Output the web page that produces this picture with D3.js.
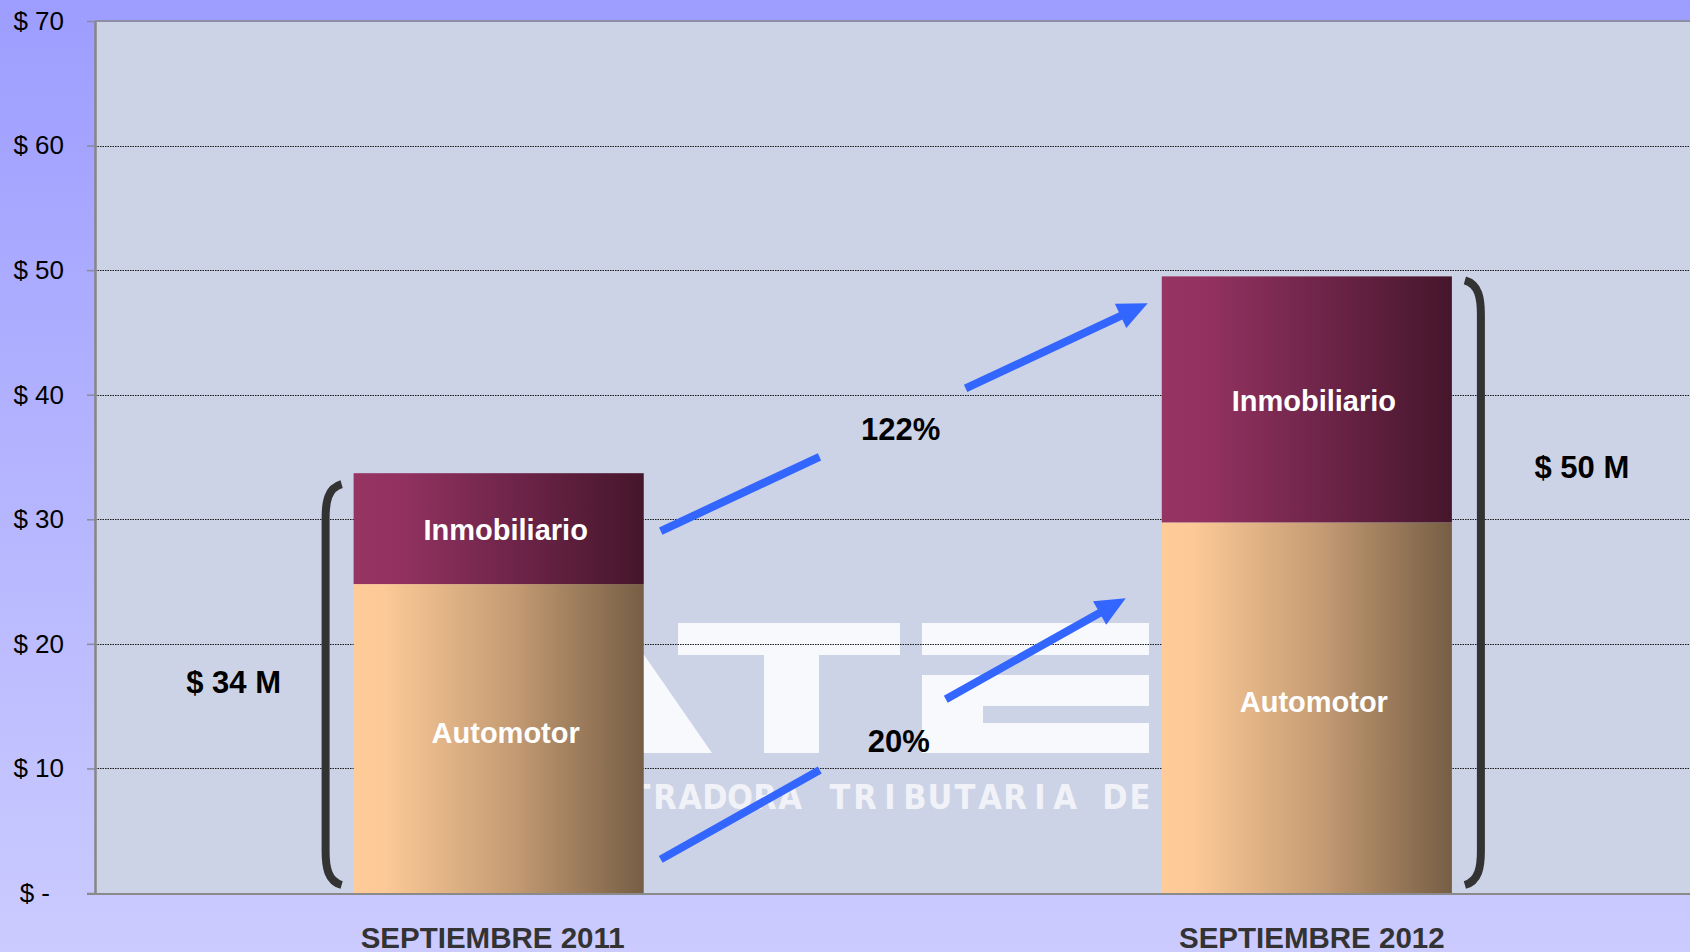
<!DOCTYPE html>
<html>
<head>
<meta charset="utf-8">
<script src="https://cdn.jsdelivr.net/npm/d3@7"></script>
<style>
body{margin:0;overflow:hidden;}
svg{display:block;font-family:"Liberation Sans",Arial,Helvetica,sans-serif;}
</style>
</head>
<body>
<div id="chart"></div>
<script>
// values (millions of $)
const categories = ["SEPTIEMBRE 2011", "SEPTIEMBRE 2012"];
const seriesNames = ["Automotor", "Inmobiliario"];
const automotor = [24.8, 29.75];
const inmobiliario = [8.9, 19.75];
const yTicks = [0, 10, 20, 30, 40, 50, 60, 70];

const width = 1690;
const height = 952;
const margin = {top: 21, left: 95, bottom: 59};
const baseY = height - margin.bottom;

const rows = categories.map((c, i) => ({cat: c, Automotor: automotor[i], Inmobiliario: inmobiliario[i]}));
const stacked = d3.stack().keys(seriesNames)(rows);
const totals = rows.map(r => r.Automotor + r.Inmobiliario);

const xScale = d3.scaleBand()
    .domain(categories)
    .range([margin.left, 1710.5])
    .paddingInner(0.641)
    .paddingOuter(0.32);
const yScale = d3.scaleLinear()
    .domain([0, 70])
    .range([baseY, margin.top]);
const bw = xScale.bandwidth();

const svg = d3.select("#chart")
    .append("svg")
        .attr("width", width)
        .attr("height", height);

const defs = svg.append("defs");
const bg = defs.append("linearGradient").attr("id", "bg").attr("x1", 0).attr("y1", 0).attr("x2", 0).attr("y2", 1);
bg.append("stop").attr("offset", 0).attr("stop-color", "#9d9dff");
bg.append("stop").attr("offset", 1).attr("stop-color", "#cbcbff");

const fills = {
    Automotor: [["0", "#ffcc99"], ["0.1", "#fdca97"], ["0.55", "#c49b73"], ["1", "#765e45"]],
    Inmobiliario: [["0", "#963462"], ["0.15", "#933261"], ["0.6", "#6a2346"], ["1", "#45162b"]]
};
Object.keys(fills).forEach(k => {
    const g = defs.append("linearGradient").attr("id", "g" + k);
    fills[k].forEach(s => g.append("stop").attr("offset", s[0]).attr("stop-color", s[1]));
});

svg.append("rect").attr("width", width).attr("height", height).attr("fill", "url(#bg)");

// plot area
svg.append("rect")
    .attr("x", margin.left)
    .attr("y", margin.top)
    .attr("width", width - margin.left)
    .attr("height", baseY - margin.top)
    .attr("fill", "#cdd3e6");

// watermark logo behind the chart
const wm = svg.append("g").attr("fill", "#fbfcfe").attr("opacity", 0.93);
wm.append("polygon").attr("points", "520,623 622,623 712,753 560,753");
wm.append("rect").attr("x", 678).attr("y", 623).attr("width", 222).attr("height", 32);
wm.append("rect").attr("x", 764).attr("y", 655).attr("width", 55).attr("height", 98);
wm.append("rect").attr("x", 922).attr("y", 623).attr("width", 227).attr("height", 32);
wm.append("rect").attr("x", 922).attr("y", 675).attr("width", 227).attr("height", 31);
wm.append("rect").attr("x", 922).attr("y", 705).attr("width", 61).attr("height", 20);
wm.append("rect").attr("x", 922).attr("y", 723).attr("width", 227).attr("height", 30);
wm.append("rect").attr("x", 1175).attr("y", 623).attr("width", 230).attr("height", 130);
const wmText = "ADMINISTRADORA TRIBUTARIA DE ENTRE RIOS";
svg.append("text")
    .text(wmText)
    .attr("x", d3.range(wmText.length).map(i => 465 + i * 25).join(" "))
    .attr("y", 809)
    .attr("text-anchor", "middle")
    .attr("font-family", "'DejaVu Sans Condensed','Liberation Sans Narrow','Liberation Sans',Arial,sans-serif")
    .attr("font-weight", "bold")
    .attr("font-size", 34)
    .attr("fill", "#f4f6fb")
    .attr("opacity", 0.9);

// gridlines
svg.append("g")
    .selectAll("line")
    .data(yTicks.filter(t => t > 0 && t < 70))
    .enter()
        .append("line")
            .attr("x1", margin.left)
            .attr("x2", width)
            .attr("y1", d => Math.round(yScale(d)) + 0.5)
            .attr("y2", d => Math.round(yScale(d)) + 0.5)
            .attr("stroke", "#1a1a1a")
            .attr("stroke-width", 1)
            .attr("stroke-dasharray", "1.5,1");

svg.append("line")
    .attr("x1", margin.left).attr("x2", width)
    .attr("y1", margin.top).attr("y2", margin.top)
    .attr("stroke", "#8d8da6").attr("stroke-width", 2);

// stacked bars
const layer = svg.selectAll(".layer")
    .data(stacked)
    .enter()
        .append("g")
            .attr("class", "layer")
            .attr("fill", d => "url(#g" + d.key + ")");

layer.selectAll("rect")
    .data(d => d)
    .enter()
        .append("rect")
            .attr("x", d => xScale(d.data.cat))
            .attr("y", d => yScale(d[1]))
            .attr("width", bw)
            .attr("height", d => yScale(d[0]) - yScale(d[1]));

layer.each(function(s){
    d3.select(this).selectAll("text")
        .data(s)
        .enter()
            .append("text")
                .text(s.key)
                .attr("x", d => xScale(d.data.cat) + bw / 2 + 7)
                .attr("y", d => (yScale(d[0]) + yScale(d[1])) / 2 + (s.key === "Automotor" ? -6 : 1))
                .attr("dy", "0.36em")
                .attr("text-anchor", "middle")
                .attr("fill", "#fff")
                .attr("font-weight", "bold")
                .attr("font-size", 29);
});

// axes
const yAxis = svg.append("g")
    .attr("transform", `translate(${margin.left},0)`)
    .call(d3.axisLeft(yScale).tickValues(yTicks).tickSize(8).tickSizeOuter(0)
        .tickFormat(d => d === 0 ? "$ -" : "$ " + d));
yAxis.select(".domain").attr("stroke", "#868686").attr("stroke-width", 2.5);
yAxis.selectAll(".tick line").attr("stroke", "#8a8a9a").attr("stroke-width", 1.5);
yAxis.selectAll(".tick text")
    .attr("x", d => d === 0 ? -45 : -31)
    .attr("fill", "#000")
    .attr("font-size", 26)
    .attr("font-family", "'Liberation Sans',Arial,sans-serif");

svg.append("line")
    .attr("x1", margin.left - 8).attr("x2", width)
    .attr("y1", baseY + 1).attr("y2", baseY + 1)
    .attr("stroke", "#8a8a8a").attr("stroke-width", 2);

svg.append("g")
    .selectAll("text")
    .data(categories)
    .enter()
        .append("text")
            .text(d => d)
            .attr("x", (d, i) => xScale(d) + bw / 2 + (i === 0 ? -6 : 5))
            .attr("y", 948)
            .attr("text-anchor", "middle")
            .attr("fill", "#333")
            .attr("font-weight", "bold")
            .attr("font-size", 29.5);

// brackets with totals
const bracket = (x, top, bottom, dir) => {
    const h = 16 * dir;
    return `M${x + h},${top} C${x + 2 * dir},${top + 4} ${x},${top + 18} ${x},${top + 34}` +
           ` L${x},${bottom - 34} C${x},${bottom - 18} ${x + 2 * dir},${bottom - 4} ${x + h},${bottom}`;
};
const b1 = categories[0], b2 = categories[1];
const brackets = [
    {x: xScale(b1) - 28, top: yScale(totals[0]) + 11, dir: 1, tx: xScale(b1) - 120, ty: yScale(16.95)},
    {x: xScale(b2) + bw + 29, top: yScale(totals[1]) + 4, dir: -1, tx: xScale(b2) + bw + 130, ty: yScale(34.2)}
];
brackets.forEach((b, i) => {
    svg.append("path")
        .attr("d", bracket(b.x, b.top, baseY - 8, b.dir))
        .attr("fill", "none")
        .attr("stroke", "#333")
        .attr("stroke-width", 8);
    svg.append("text")
        .text("$ " + Math.round(totals[i]) + " M")
        .attr("x", b.tx)
        .attr("y", b.ty)
        .attr("dy", "0.36em")
        .attr("text-anchor", "middle")
        .attr("font-weight", "bold")
        .attr("font-size", 31)
        .attr("fill", "#000");
});

// growth arrows
const pct = (a, b) => Math.round((b / a - 1) * 100) + "%";
const arrows = [
    {v0: 29.05, v1: 47.35, end: 14, t1: 0.326, t2: 0.626, dx: 8, label: pct(inmobiliario[0], inmobiliario[1])},
    {v0: 2.7, v1: 23.66, end: 36, t1: 0.342, t2: 0.613, dx: 16, label: pct(automotor[0], automotor[1])}
];
arrows.forEach(a => {
    const x0 = xScale(b1) + bw + 17, y0 = yScale(a.v0);
    const x1 = xScale(b2) - a.end, y1 = yScale(a.v1);
    const len = Math.hypot(x1 - x0, y1 - y0);
    const ux = (x1 - x0) / len, uy = (y1 - y0) / len;
    const lerp = t => [x0 + (x1 - x0) * t, y0 + (y1 - y0) * t];
    const headL = 30, headW = 27;
    const hb = [x1 - ux * headL, y1 - uy * headL];
    const g = svg.append("g");
    const p1 = lerp(a.t1), p2 = lerp(a.t2);
    g.append("line").attr("x1", x0).attr("y1", y0).attr("x2", p1[0]).attr("y2", p1[1]);
    g.append("line").attr("x1", p2[0]).attr("y1", p2[1]).attr("x2", hb[0] + ux * 2).attr("y2", hb[1] + uy * 2);
    g.selectAll("line").attr("stroke", "#3366ff").attr("stroke-width", 8);
    g.append("polygon")
        .attr("points", [[x1, y1],
            [hb[0] - uy * headW / 2, hb[1] + ux * headW / 2],
            [hb[0] + uy * headW / 2, hb[1] - ux * headW / 2]].map(p => p.join(",")).join(" "))
        .attr("fill", "#3366ff");
    const m = lerp((a.t1 + a.t2) / 2);
    svg.append("text")
        .text(a.label)
        .attr("x", m[0] + a.dx)
        .attr("y", m[1] + 6)
        .attr("dy", "0.36em")
        .attr("text-anchor", "middle")
        .attr("font-weight", "bold")
        .attr("font-size", 31)
        .attr("fill", "#000");
});
</script>
</body>
</html>
